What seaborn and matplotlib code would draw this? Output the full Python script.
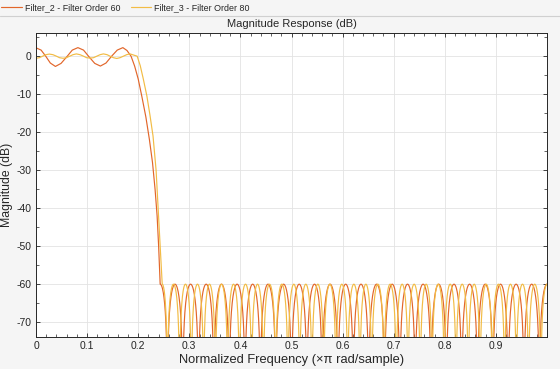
import numpy as np
import pandas as pd
import matplotlib
matplotlib.use("Agg")
import matplotlib.pyplot as plt
import seaborn as sns
from matplotlib.ticker import MultipleLocator, FuncFormatter

# --- values ---
# passband + transition band (normalized frequency, dB)
f60_pass = [0.000, 0.010, 0.019, 0.028, 0.038, 0.049, 0.060, 0.071, 0.082, 0.093,
            0.104, 0.115, 0.126, 0.137, 0.148, 0.159, 0.170, 0.178, 0.186, 0.193,
            0.200, 0.207, 0.215, 0.222, 0.228, 0.233, 0.237, 0.240, 0.243]
db60_pass = [2.2, 1.6, 0.0, -1.8, -2.7, -1.9, -0.2, 1.6, 2.25, 1.6,
             -0.2, -1.9, -2.6, -1.8, 0.0, 1.6, 2.25, 1.5, 0.0, -2.6,
             -6.0, -10.5, -16.0, -22.0, -28.0, -35.0, -42.0, -50.0, -60.0]

f80_pass = [0.000, 0.0065, 0.013, 0.0195, 0.026, 0.033, 0.040, 0.046, 0.053, 0.0595,
            0.066, 0.0725, 0.079, 0.086, 0.093, 0.099, 0.106, 0.1125, 0.119, 0.1255,
            0.132, 0.139, 0.145, 0.1515, 0.158, 0.1645, 0.171, 0.1775, 0.184, 0.191,
            0.198, 0.204, 0.210, 0.217, 0.223, 0.229, 0.235, 0.239, 0.243, 0.247]
db80_pass = [-0.55, -0.4, 0.0, 0.4, 0.55, 0.4, 0.0, -0.4, -0.55, -0.4,
             0.0, 0.4, 0.6, 0.4, 0.0, -0.4, -0.5, -0.4, 0.0, 0.4,
             0.6, 0.4, 0.0, -0.4, -0.6, -0.4, 0.0, 0.4, 0.6, 0.3,
             0.0, -2.5, -6.0, -10.5, -15.5, -21.0, -30.0, -40.0, -50.0, -60.0]

# stopband nulls (normalized frequency), ripple peaks at -60 dB
nulls60 = [0.257, 0.287, 0.318, 0.348, 0.378, 0.409, 0.439, 0.469, 0.500, 0.530,
           0.560, 0.591, 0.621, 0.651, 0.682, 0.712, 0.742, 0.773, 0.803, 0.833,
           0.864, 0.894, 0.924, 0.955, 0.985]
nulls80 = [0.257, 0.281, 0.304, 0.328, 0.351, 0.375, 0.398, 0.422, 0.445, 0.469,
           0.493, 0.516, 0.540, 0.563, 0.587, 0.610, 0.634, 0.657, 0.681, 0.705,
           0.728, 0.752, 0.775, 0.799, 0.822, 0.846, 0.869, 0.893, 0.917, 0.940,
           0.964, 0.988]
stop_db = -60.0

names = ["Filter_2 - Filter Order 60", "Filter_3 - Filter Order 80"]
colors = ["#E2662A", "#F2BC45"]


def response(f_pass, db_pass, nulls):
    # arches between the read nulls, each one topping out at the stopband level
    fs, ds = [], []
    edges = [f_pass[-1]] + nulls + [1.0]
    last = len(edges) - 2
    for i in range(len(edges) - 1):
        a, b = edges[i], edges[i + 1]
        if i == 0:
            t = np.linspace(0.5, 1.0, 40)      # from the band edge down to the first null
        elif i == last:
            t = np.linspace(0.0, 0.5, 40)      # last half arch up to f = 1
        else:
            t = np.linspace(0.0, 1.0, 80)
        x = np.linspace(a, b, len(t))
        mag = np.maximum(np.abs(np.sin(np.pi * t)), 1e-6)
        fs.extend(x[1:])
        ds.extend((stop_db + 20 * np.log10(mag))[1:])
    return pd.DataFrame({"f": list(f_pass) + fs, "db": list(db_pass) + ds})


sns.set_theme(style="ticks")
plt.rcParams["font.family"] = ["Liberation Sans", "DejaVu Sans"]
plt.rcParams["axes.unicode_minus"] = False

fig = plt.figure(figsize=(5.6, 3.69), dpi=100, facecolor="#F5F5F5")
ax = fig.add_axes([36 / 560, 1 - 337 / 369, (547 - 36) / 560, (337 - 33) / 369])
ax.set_facecolor("white")

for fp, dp, nl, name, c in [(f60_pass, db60_pass, nulls60, names[0], colors[0]),
                            (f80_pass, db80_pass, nulls80, names[1], colors[1])]:
    df = response(fp, dp, nl)
    sns.lineplot(data=df, x="f", y="db", ax=ax, color=c, linewidth=0.85,
                 sort=False, estimator=None, label=name)

ax.set_xlim(0, 1.0)
ax.set_ylim(-73.9, 6.1)
ax.xaxis.set_major_locator(MultipleLocator(0.1))
ax.xaxis.set_minor_locator(MultipleLocator(0.02))
ax.yaxis.set_major_locator(MultipleLocator(10))
ax.yaxis.set_minor_locator(MultipleLocator(5))
ax.xaxis.set_major_formatter(FuncFormatter(
    lambda v, p: "" if v > 0.95 else ("0" if abs(v) < 1e-9 else f"{v:.1f}")))
ax.yaxis.set_major_formatter(FuncFormatter(lambda v, p: f"{v:.0f}"))
ax.tick_params(which="both", direction="in", top=True, right=True, color="#262626",
               labelsize=7.5, labelcolor="#262626", pad=3)
ax.tick_params(which="major", length=3, width=0.6)
ax.tick_params(which="minor", length=2, width=0.5)
ax.grid(True, which="major", color="#E3E3E3", linewidth=0.6)
for s in ax.spines.values():
    s.set_color("#262626")
    s.set_linewidth(0.7)

ax.set_title("Magnitude Response (dB)", fontsize=8.0, color="#262626", pad=4)
ax.set_xlabel("Normalized Frequency (\u00d7\u03c0 rad/sample)", fontsize=9.3, color="#262626", labelpad=2)
ax.set_ylabel("Magnitude (dB)", fontsize=8.8, color="#262626", labelpad=3)

h, l = ax.get_legend_handles_labels()
ax.get_legend().remove()
fig.legend(h, l, loc="center left", bbox_to_anchor=(0.002, 1 - 7.5 / 369), ncol=2,
           frameon=False, fontsize=6.4, handlelength=2.3, handletextpad=0.35,
           columnspacing=1.2, borderaxespad=0, borderpad=0)
fig.add_artist(plt.Line2D([0, 1], [1 - 15.5 / 369, 1 - 15.5 / 369], color="#D0D0D0", linewidth=0.8))

fig.savefig("out.png", dpi=100, facecolor=fig.get_facecolor())
